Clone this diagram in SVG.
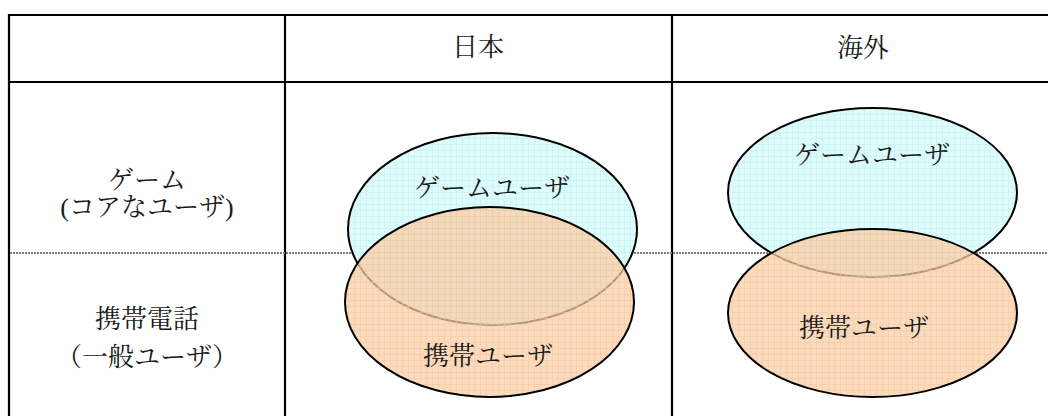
<svg xmlns="http://www.w3.org/2000/svg" width="1048" height="416" viewBox="0 0 1048 416">
<style>
  .grid { stroke: #000; stroke-width: 2.2; fill: none; }
  .dot { stroke: #7a7a7a; stroke-width: 1.8; stroke-dasharray: 2 1; fill: none; }
  .t { font-family: "Liberation Serif", "Noto Serif CJK JP", "Noto Sans CJK JP", serif; font-size: 26px; fill: #1a1a1a; text-anchor: middle; }
  .game { fill: url(#pb); stroke: #000; stroke-width: 2; }
  .mob { fill: url(#po); stroke: #000; stroke-width: 2; }
</style>
<defs>
  <pattern id="pb" width="6" height="6" patternUnits="userSpaceOnUse">
    <rect width="6" height="6" fill="#ddfcfc"/>
    <path d="M0 0.5H6M0.5 0V6" stroke="#d0f4f4" stroke-width="1"/>
  </pattern>
  <pattern id="po" width="6" height="6" patternUnits="userSpaceOnUse">
    <rect width="6" height="6" fill="rgb(250,205,165)" fill-opacity="0.72"/>
    <path d="M0 0.5H6M0.5 0V6" stroke="rgb(246,196,150)" stroke-opacity="0.45" stroke-width="1"/>
  </pattern>
</defs>

<g id="table">
  <line class="grid" x1="9" y1="15" x2="1048" y2="15"/>
  <line class="grid" x1="9" y1="82" x2="1048" y2="82"/>
  <line class="grid" x1="9" y1="14" x2="9" y2="416"/>
  <line class="grid" x1="285" y1="14" x2="285" y2="416"/>
  <line class="grid" x1="672" y1="14" x2="672" y2="416"/>
  <line class="dot" x1="10" y1="253" x2="1048" y2="253"/>
</g>

<g id="headers">
  <text class="t" x="478" y="56">日本</text>
  <text class="t" x="863" y="57">海外</text>
</g>

<g id="row-game">
  <text class="t" x="147" y="189">ゲーム</text>
  <text class="t" x="147" y="216">(コアなユーザ)</text>
</g>
<g id="row-mobile">
  <text class="t" x="147" y="328">携帯電話</text>
  <text class="t" x="147" y="366">（一般ユーザ）</text>
</g>

<g id="jp-game">
  <ellipse class="game" cx="492.5" cy="229" rx="144.5" ry="96"/>
  <text class="t" x="492" y="197">ゲームユーザ</text>
</g>
<g id="jp-mobile">
  <ellipse class="mob" cx="489.5" cy="302" rx="144.5" ry="95"/>
  <text class="t" x="488" y="365">携帯ユーザ</text>
</g>

<g id="os-game">
  <ellipse class="game" cx="872.5" cy="192.5" rx="144.5" ry="84.5"/>
  <text class="t" x="872" y="164">ゲームユーザ</text>
</g>
<g id="os-mobile">
  <ellipse class="mob" cx="872.5" cy="313" rx="144.5" ry="84"/>
  <text class="t" x="864" y="337">携帯ユーザ</text>
</g>
</svg>
